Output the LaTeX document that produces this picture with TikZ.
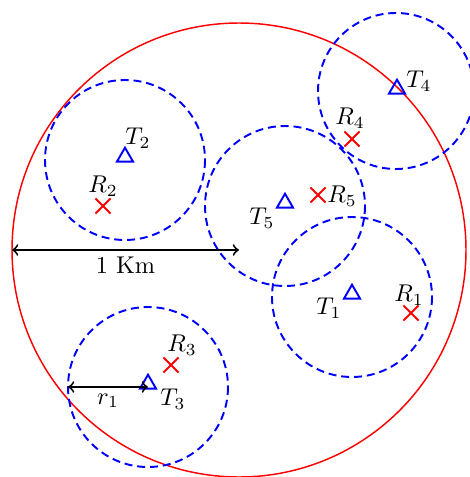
\documentclass[tikz,border=0pt]{standalone}
\usepackage{amsmath}
\usetikzlibrary{shapes.geometric, shapes.misc, arrows, positioning}

\tikzset{
    cover/.style={blue, thick, dash pattern=on 3.3pt off 2pt},
    tx/.style={regular polygon, regular polygon sides=3, draw=blue, thick, minimum size=0.27cm, inner sep=0pt},
    rx/.style={cross out, draw=red, thick, minimum size=0.19cm, inner sep=0pt},
    lbl/.style={inner sep=1pt}
}

\begin{document}
\begin{tikzpicture}[x=0.0145cm, y=-0.0145cm]
    \useasboundingbox (0,0) rectangle (470,477);

    % --- 区域 ---
    \draw[red, semithick] (239,250) circle (227);

    % --- 覆盖范围 ---
    \draw[cover] (125,160) circle (80);
    \draw[cover] (285,206) circle (80);
    \draw[cover] (352,297) circle (80);
    \draw[cover] (396,91) circle (78);
    \draw[cover] (148,387) circle (80);

    % --- 发射机 ---
    \node[tx] (t1) at (352,294) {};
    \node[tx] (t2) at (125,157) {};
    \node[tx] (t3) at (148,384) {};
    \node[tx] (t4) at (397,89) {};
    \node[tx] (t5) at (285,203) {};
    \node[lbl] at (329,308) {$T_1$};
    \node[lbl] at (138,138) {$T_2$};
    \node[lbl] at (173,399) {$T_3$};
    \node[lbl] at (419,81) {$T_4$};
    \node[lbl] at (262,218) {$T_5$};

    % --- 接收机 ---
    \node[rx] (r1) at (411,313) {};
    \node[rx] (r2) at (103,206) {};
    \node[rx] (r3) at (171,365) {};
    \node[rx] (r4) at (352,139) {};
    \node[rx] (r5) at (318,195) {};
    \node[lbl] at (409,295) {$R_1$};
    \node[lbl] at (103,186) {$R_2$};
    \node[lbl] at (182,345) {$R_3$};
    \node[lbl] at (350,118) {$R_4$};
    \node[lbl] at (342,196) {$R_5$};

    % --- 尺寸 ---
    \coordinate (west) at (12,250);
    \coordinate (mid) at (239,250);
    \draw[<->, thick] (west) -- (mid) node[midway, below=-1pt] {1 Km};
    \coordinate (edge3) at (68,387);
    \draw[<->, thick] (edge3) -- (t3 |- edge3) node[midway, below=-1pt] {$r_1$};
\end{tikzpicture}
\end{document}
